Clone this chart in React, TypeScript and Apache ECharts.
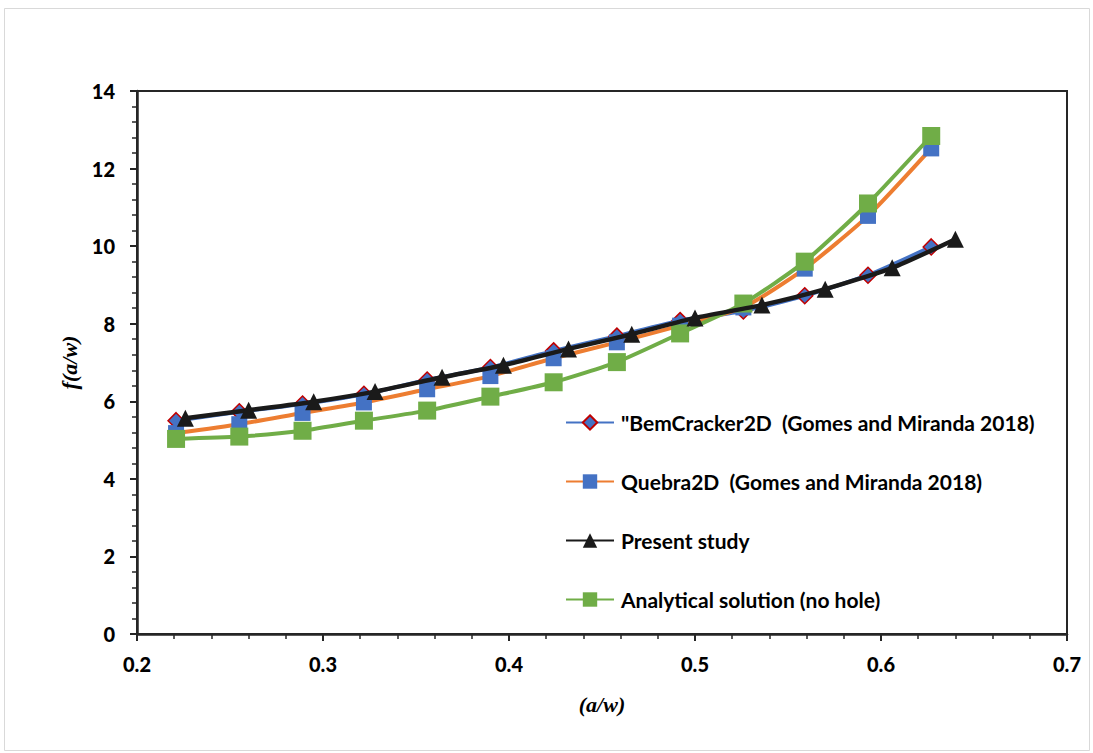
import React, { useEffect, useRef } from "react";
import * as echarts from "echarts";

const xMain = [0.221, 0.255, 0.289, 0.322, 0.356, 0.39, 0.424, 0.458, 0.492, 0.526, 0.559, 0.593, 0.627];
const xPresent = [0.226, 0.26, 0.295, 0.328, 0.364, 0.397, 0.432, 0.466, 0.5, 0.536, 0.57, 0.606, 0.64];
const bemValues = [5.5, 5.73, 5.93, 6.18, 6.55, 6.87, 7.3, 7.68, 8.08, 8.33, 8.72, 9.25, 9.98];
const quebraValues = [5.18, 5.41, 5.7, 5.97, 6.31, 6.65, 7.11, 7.52, 7.95, 8.42, 9.42, 10.78, 12.52];
const presentValues = [5.56, 5.77, 5.99, 6.25, 6.62, 6.93, 7.35, 7.73, 8.15, 8.48, 8.89, 9.44, 10.18];
const analyticalValues = [5.03, 5.09, 5.24, 5.5, 5.76, 6.12, 6.49, 7.01, 7.75, 8.52, 9.6, 11.1, 12.84];

const seriesNames = [
  '"BemCracker2D  (Gomes and Miranda 2018)',
  "Quebra2D  (Gomes and Miranda 2018)",
  "Present study",
  "Analytical solution (no hole)",
];

const pairs = (xs: number[], ys: number[]) => xs.map((x, i) => [x, ys[i]]);

export default function App() {
  const ref = useRef<HTMLDivElement>(null);
  useEffect(() => {
    if (!ref.current) return;
    const chart = echarts.init(ref.current, undefined, { renderer: "svg" });
    const labelFont = { fontFamily: "Lato", fontWeight: 900, fontSize: 20, color: "#000" };
    const titleFont = { fontFamily: "Liberation Serif", fontStyle: "italic" as const, fontWeight: "bold" as const, fontSize: 22, color: "#000" };
    chart.setOption({
      animation: false,
      backgroundColor: "#fff",
      graphic: [
        {
          type: "rect",
          shape: { x: 4.5, y: 8.5, width: 1085, height: 742 },
          style: { fill: "none", stroke: "#d9d9d9", lineWidth: 1 },
          silent: true,
        },
      ],
      grid: {
        left: 137,
        right: 26,
        top: 91,
        bottom: 119,
        show: true,
        borderColor: "#262626",
        borderWidth: 2,
      },
      legend: {
        orient: "vertical",
        left: 560,
        top: 407,
        itemWidth: 48,
        itemHeight: 18,
        itemGap: 38,
        textStyle: { fontFamily: "Lato", fontWeight: "bold", fontSize: 21, color: "#000", padding: [0, 0, 0, 2] },
        data: seriesNames,
      },
      xAxis: {
        type: "value",
        min: 0.2,
        max: 0.7,
        interval: 0.1,
        name: "(a/w)",
        nameLocation: "middle",
        nameGap: 59,
        nameTextStyle: titleFont,
        axisLine: { lineStyle: { color: "#262626", width: 2.5 } },
        axisTick: { show: true, inside: false, length: 7, lineStyle: { color: "#262626", width: 2 } },
        minorTick: { show: true, splitNumber: 5, length: 5, lineStyle: { color: "#262626", width: 1.5 } },
        splitLine: { show: false },
        axisLabel: { ...labelFont, margin: 20, formatter: (v: number) => v.toFixed(1) },
      },
      yAxis: {
        type: "value",
        min: 0,
        max: 14,
        interval: 2,
        name: "f(a/w)",
        nameLocation: "middle",
        nameGap: 57,
        nameRotate: 90,
        nameTextStyle: titleFont,
        axisLine: { show: true, lineStyle: { color: "#262626", width: 2.5 } },
        axisTick: { show: true, inside: false, length: 7, lineStyle: { color: "#262626", width: 2 } },
        minorTick: { show: true, splitNumber: 5, length: 5, lineStyle: { color: "#262626", width: 1.5 } },
        splitLine: { show: false },
        axisLabel: { ...labelFont, margin: 22 },
      },
      series: [
        {
          name: seriesNames[0],
          type: "line",
          smooth: 0.2,
          data: pairs(xMain, bemValues),
          symbol: "diamond",
          symbolSize: 16,
          lineStyle: { color: "#4472c4", width: 4 },
          itemStyle: { color: "#4472c4", borderColor: "#c00000", borderWidth: 1.5 },
          z: 2,
        },
        {
          name: seriesNames[1],
          type: "line",
          smooth: 0.2,
          data: pairs(xMain, quebraValues),
          symbol: "rect",
          symbolSize: 16,
          lineStyle: { color: "#ed7d31", width: 4 },
          itemStyle: { color: "#4472c4" },
          z: 3,
        },
        {
          name: seriesNames[2],
          type: "line",
          smooth: 0.2,
          data: pairs(xPresent, presentValues),
          symbol: "triangle",
          symbolSize: 17,
          lineStyle: { color: "#1a1a1a", width: 4.5 },
          itemStyle: { color: "#1a1a1a" },
          z: 5,
        },
        {
          name: seriesNames[3],
          type: "line",
          smooth: 0.2,
          data: pairs(xMain, analyticalValues),
          symbol: "rect",
          symbolSize: 18,
          lineStyle: { color: "#70ad47", width: 4 },
          itemStyle: { color: "#70ad47" },
          z: 4,
        },
      ],
    });
    return () => chart.dispose();
  }, []);
  return (
    <div
      ref={ref}
      style={{ position: "fixed", left: 0, top: 0, width: 1093, height: 753, background: "#fff" }}
    />
  );
}
